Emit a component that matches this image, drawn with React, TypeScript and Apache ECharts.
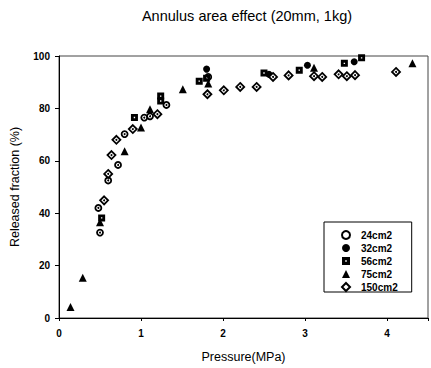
import React, { useEffect, useRef } from "react";
import * as echarts from "echarts";

const seriesNames = ["24cm2", "32cm2", "56cm2", "75cm2", "150cm2"];
const xTicks = [0, 1, 2, 3, 4];
const yTicks = [0, 20, 40, 60, 80, 100];

const data24: number[][] = [
  [0.5, 32.6], [0.48, 42], [0.6, 52.5], [0.72, 58.4], [0.8, 70.2],
  [1.04, 76.5], [1.11, 77], [1.31, 81.3], [1.82, 92],
];
const data32: number[][] = [
  [1.8, 95], [2.56, 93], [3.03, 96.5], [3.6, 97.8],
];
const data56: number[][] = [
  [0.52, 38.2], [0.92, 76.5], [1.24, 84.7], [1.24, 82.8], [1.71, 90.4],
  [1.8, 91.5], [2.5, 93.5], [2.93, 94.6], [3.48, 97.2], [3.69, 99.3],
];
const data75: number[][] = [
  [0.14, 4.2], [0.29, 15.4], [0.5, 36.5], [0.8, 63.6], [1.0, 72.7],
  [1.11, 79.7], [1.51, 87.3], [1.82, 89.5], [3.11, 95.5], [4.31, 97.2],
];
const data150: number[][] = [
  [0.55, 44.9], [0.6, 55], [0.64, 62.2], [0.7, 68], [0.9, 72.1],
  [1.2, 77.8], [1.81, 85.4], [2.01, 86.9], [2.21, 88.2], [2.41, 88.2],
  [2.61, 92], [2.8, 92.6], [3.11, 92.3], [3.21, 92], [3.41, 93],
  [3.51, 92.3], [3.61, 92.7], [4.11, 93.9],
];

const squareHole =
  "path://M0 0L10 0L10 10L0 10Z" +
  "M4 4L4 6L6 6L6 4Z";

const font = "'Liberation Sans', Arial, sans-serif";

export default function App() {
  const ref = useRef<HTMLDivElement>(null);
  useEffect(() => {
    if (!ref.current) return;
    const chart = echarts.init(ref.current, undefined, { renderer: "svg" });
    const filled = (name: string, data: number[][], symbol: string, size: number) => ({
      name,
      type: "scatter",
      data,
      symbol,
      symbolSize: size,
      itemStyle: { color: "#000", opacity: 1 },
    });
    const hollow = (name: string, data: number[][], symbol: string, size: number) => ({
      name,
      type: "scatter",
      data,
      symbol,
      symbolSize: size,
      itemStyle: { color: "#fff", borderColor: "#000", borderWidth: 1.8, opacity: 1 },
    });
    const dots = (name: string, data: number[][]) => ({
      name,
      type: "scatter",
      data,
      symbol: "circle",
      symbolSize: 2,
      itemStyle: { color: "#000", opacity: 1 },
      silent: true,
    });
    chart.setOption({
      animation: false,
      backgroundColor: "#fff",
      title: {
        text: "Annulus area effect (20mm, 1kg)",
        left: 242,
        textAlign: "center",
        top: 3,
        textStyle: { fontFamily: font, fontSize: 14.5, fontWeight: "normal", color: "#000" },
      },
      grid: {
        left: 57,
        right: 0,
        top: 56,
        bottom: 48,
        show: true,
        borderColor: "#444",
        borderWidth: 1,
      },
      legend: {
        orient: "vertical",
        left: 324,
        top: 222,
        data: seriesNames,
        itemWidth: 8,
        itemHeight: 8,
        itemGap: 3,
        padding: [8, 14, 0, 17],
        borderColor: "#000",
        borderWidth: 1,
        backgroundColor: "#fff",
        textStyle: {
          fontFamily: font,
          fontSize: 10,
          fontWeight: "bold",
          color: "#000",
          padding: [0, 0, 0, 6],
        },
      },
      xAxis: {
        type: "value",
        min: 0,
        max: 4.5,
        interval: 1,
        splitLine: { show: false },
        axisLine: { show: true, lineStyle: { color: "#000" } },
        axisTick: { show: true, length: 3, lineStyle: { color: "#000" } },
        axisLabel: {
          margin: 10,
          fontFamily: font,
          fontSize: 10,
          fontWeight: "bold",
          color: "#000",
          formatter: (v: number) => (xTicks.includes(v) ? String(v) : ""),
        },
        name: "Pressure(MPa)",
        nameLocation: "middle",
        nameGap: 32,
        nameTextStyle: { fontFamily: font, fontSize: 12.5, color: "#000" },
      },
      yAxis: {
        type: "value",
        min: 0,
        max: 100,
        interval: 20,
        splitLine: { show: false },
        axisLine: { show: true, lineStyle: { color: "#000" } },
        axisTick: { show: true, length: 4, lineStyle: { color: "#000" } },
        axisLabel: {
          margin: 9,
          fontFamily: font,
          fontSize: 10,
          fontWeight: "bold",
          color: "#000",
          formatter: (v: number) => (yTicks.includes(v) ? String(v) : ""),
        },
        name: "Released fraction (%)",
        nameLocation: "middle",
        nameGap: 38,
        nameTextStyle: { fontFamily: font, fontSize: 12.5, color: "#000" },
      },
      series: [
        hollow(seriesNames[0], data24, "circle", 6),
        filled(seriesNames[1], data32, "circle", 7),
        filled(seriesNames[2], data56, squareHole, 7),
        filled(seriesNames[3], data75, "triangle", 8),
        hollow(seriesNames[4], data150, "diamond", 8),
        dots(seriesNames[0], data24),
        dots(seriesNames[4], data150),
      ],
    });
    return () => chart.dispose();
  }, []);
  return (
    <div
      ref={ref}
      style={{ position: "fixed", left: 0, top: 0, width: 431, height: 368, background: "#fff" }}
    />
  );
}
